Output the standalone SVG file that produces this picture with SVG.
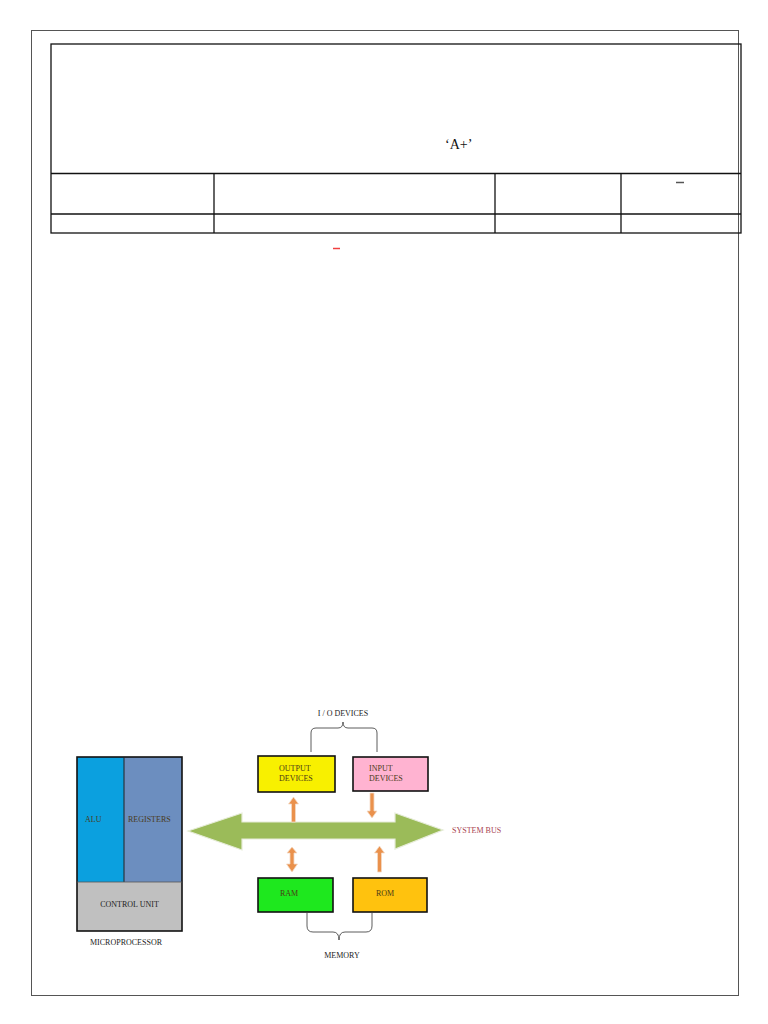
<svg xmlns="http://www.w3.org/2000/svg" width="768" height="1024" viewBox="0 0 768 1024">
<style>
.lbl{font-family:"Liberation Serif","Times New Roman",serif;font-size:8px;fill:#222}
.dev{font-family:"Liberation Serif","Times New Roman",serif;font-size:8px;fill:#4a3a18}
.box{stroke:#111;stroke-width:1.6}
.tbl{fill:none;stroke:#111;stroke-width:1.3}
.brace{fill:none;stroke:#333;stroke-width:0.8}
.oarr{fill:#ea914c;stroke:#f4d9c4;stroke-width:0.8}
</style>
<rect width="768" height="1024" fill="#fff"/>
<rect x="31.5" y="30.5" width="707" height="965" fill="none" stroke="#555" stroke-width="1"/>
<g id="table">
<rect class="tbl" x="51" y="44" width="690" height="189"/>
<line class="tbl" x1="51" y1="173.5" x2="741" y2="173.5"/>
<line class="tbl" x1="51" y1="214" x2="741" y2="214"/>
<line class="tbl" x1="214" y1="173.5" x2="214" y2="233"/>
<line class="tbl" x1="495" y1="173.5" x2="495" y2="233" stroke="#555"/>
<line class="tbl" x1="621" y1="173.5" x2="621" y2="233"/>
<text x="445" y="149" font-family="Liberation Serif, Times New Roman, serif" font-size="14" fill="#111">‘A+’</text>
<line x1="676" y1="182.5" x2="684" y2="182.5" stroke="#555" stroke-width="1.5"/>
</g>
<line x1="333" y1="248.5" x2="340" y2="248.5" stroke="#f04040" stroke-width="1.5"/>
<g id="microprocessor">
<rect x="77" y="757" width="47" height="125" fill="#0ba0df"/>
<rect x="124" y="757" width="58" height="125" fill="#6c8ebf"/>
<rect x="77" y="882" width="105" height="49" fill="#c0c0c0"/>
<rect x="77" y="757" width="105" height="174" fill="none" stroke="#111" stroke-width="1.6"/>
<line x1="124" y1="757" x2="124" y2="882" stroke="#222" stroke-width="1"/>
<line x1="77" y1="882" x2="182" y2="882" stroke="#555" stroke-width="0.8"/>
<text class="dev" x="85" y="822">ALU</text>
<text class="dev" x="128" y="822">REGISTERS</text>
<text class="lbl" x="129.5" y="907" text-anchor="middle">CONTROL UNIT</text>
<text class="lbl" x="126" y="945" text-anchor="middle">MICROPROCESSOR</text>
</g>
<g id="output-devices">
<rect class="box" x="258" y="756" width="77" height="36" fill="#f8f000"/>
<text class="dev" x="279" y="771">OUTPUT</text>
<text class="dev" x="279" y="780.5">DEVICES</text>
</g>
<g id="input-devices">
<rect class="box" x="353" y="757" width="75" height="34" fill="#ffb3d1"/>
<text class="dev" x="369" y="771">INPUT</text>
<text class="dev" x="369" y="780.5">DEVICES</text>
</g>
<g id="ram">
<rect class="box" x="258" y="878" width="75" height="34" fill="#1ee81e"/>
<text class="dev" x="280" y="896">RAM</text>
</g>
<g id="rom">
<rect class="box" x="353" y="878" width="74" height="34" fill="#ffc20e"/>
<text class="dev" x="376" y="896">ROM</text>
</g>
<g id="io-label">
<path class="brace" d="M311 752 V733 Q311 728 316 728 H338 Q343 728 343 722 Q343 728 348 728 H372 Q377 728 377 733 V752"/>
<text class="lbl" x="343" y="716" text-anchor="middle">I / O DEVICES</text>
</g>
<g id="memory-label">
<path class="brace" d="M307 913 V926 Q307 932 313 932 H333 Q339 932 339 940 Q339 932 345 932 H366 Q372 932 372 926 V913"/>
<text class="lbl" x="342" y="958" text-anchor="middle">MEMORY</text>
</g>
<g id="system-bus">
<path d="M188 831 L242 813 L242 822 L395 822 L395 813 L443 830 L395 849 L395 839 L242 839 L242 850 Z" fill="#9bbb59" stroke="#e6ecd8" stroke-width="1.2"/>
<text x="452" y="833" font-family="Liberation Serif, Times New Roman, serif" font-size="8" fill="#a8434f">SYSTEM BUS</text>
</g>
<g id="connectors">
<path class="oarr" d="M293.5 797 L298.5 804 L295.5 804 L295.5 822 L291.5 822 L291.5 804 L288.5 804 Z"/>
<path class="oarr" d="M372 818 L367 811 L370 811 L370 793 L374 793 L374 811 L377 811 Z"/>
<path class="oarr" d="M292 872 L286.5 864 L290 864 L290 853 L287 853 L292 847 L297 853 L294 853 L294 864 L297.5 864 Z" fill="#f2b27a"/>
<path class="oarr" d="M379.5 846 L384.5 853 L381.5 853 L381.5 872 L377.5 872 L377.5 853 L374.5 853 Z"/>
</g>
</svg>
